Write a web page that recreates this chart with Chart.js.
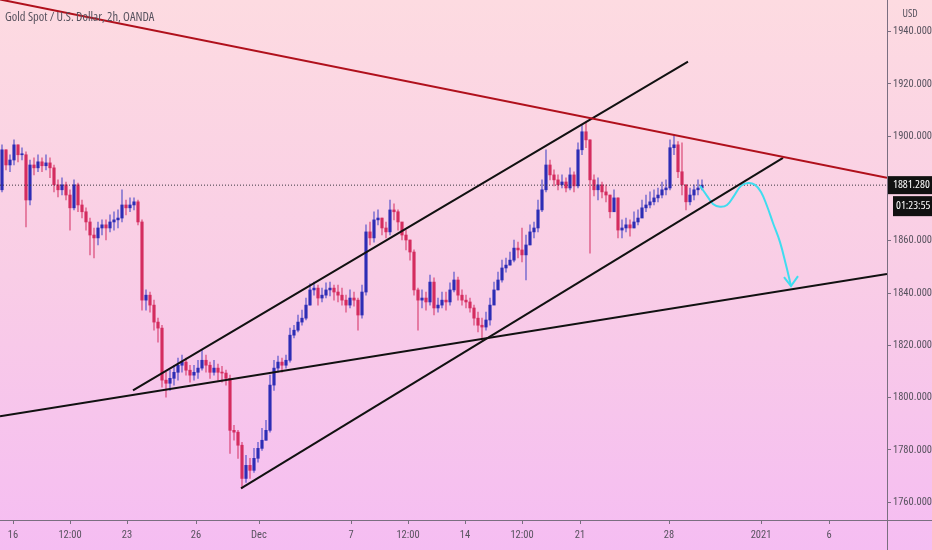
<!DOCTYPE html>
<html>
<head>
<meta charset="utf-8">
<title>Gold Spot / U.S. Dollar, 2h</title>
<script src="https://cdn.jsdelivr.net/npm/chart.js@4.4.1/dist/chart.umd.min.js"></script>
<style>
  html, body { margin: 0; padding: 0; }
  body {
    width: 932px;
    height: 550px;
    overflow: hidden;
    background: linear-gradient(to bottom, #fddbe1 0%, #f9cde6 50%, #f5bdf2 100%);
  }
</style>
</head>
<body>
<canvas id="chart" width="932" height="550"></canvas>
<script>
// 2h candles, one entry per candle (open = previous close)
const firstOpen = 1879.5;
const closes = [
  1894.8, 1889.0, 1890.9, 1896.7, 1892.9, 1892.9, 1875.6, 1889.0, 1887.9, 1890.2,
  1888.7, 1889.8, 1887.9, 1881.4, 1879.5, 1881.4, 1877.5, 1872.6, 1881.4, 1873.7,
  1871.1, 1867.2, 1862.2, 1861.1, 1864.9, 1866.1, 1864.9, 1867.2, 1868.0, 1868.7,
  1873.7, 1872.6, 1873.7, 1874.9, 1867.2, 1837.3, 1839.2, 1835.4, 1828.9, 1826.6,
  1806.7, 1805.5, 1807.4, 1809.7, 1812.4, 1813.6, 1810.5, 1808.6, 1809.7, 1811.3,
  1814.3, 1812.4, 1809.7, 1811.3, 1809.7, 1809.4, 1807.4, 1787.5, 1786.8, 1781.8,
  1769.1, 1774.1, 1772.2, 1776.8, 1780.6, 1783.7, 1787.5, 1804.8, 1811.3, 1813.6,
  1812.4, 1814.3, 1823.9, 1825.8, 1828.9, 1830.4, 1835.4, 1841.2, 1841.9, 1838.1,
  1839.2, 1841.2, 1841.9, 1840.4, 1839.2, 1837.3, 1835.4, 1838.1, 1837.3, 1831.6,
  1840.4, 1863.4, 1861.1, 1868.0, 1868.7, 1864.9, 1863.4, 1871.8, 1871.1, 1867.2,
  1862.2, 1860.3, 1855.7, 1841.2, 1837.3, 1838.1, 1836.6, 1844.2, 1834.3, 1835.4,
  1837.3, 1836.6, 1841.2, 1845.0, 1839.2, 1837.3, 1836.6, 1834.3, 1830.4, 1827.7,
  1827.0, 1829.7, 1835.4, 1841.2, 1845.0, 1849.6, 1850.7, 1852.6, 1857.2, 1856.5,
  1854.6, 1858.4, 1863.4, 1864.9, 1871.8, 1879.5, 1889.0, 1885.2, 1883.3, 1881.4,
  1882.5, 1880.2, 1885.2, 1881.0, 1894.8, 1901.7, 1898.6, 1883.3, 1879.5, 1881.4,
  1878.7, 1877.5, 1871.1, 1876.4, 1864.1, 1864.9, 1866.1, 1864.9, 1867.2, 1868.7,
  1872.6, 1873.7, 1874.9, 1876.4, 1877.5, 1879.5, 1880.2, 1895.6, 1896.7, 1886.4,
  1881.4, 1874.9, 1877.5, 1879.5, 1880.2, 1881.28
];
const highs = [
  1896.7, 1894.8, 1892.9, 1898.6, 1896.7, 1895.6, 1894.0, 1890.9, 1891.7, 1892.9,
  1891.7, 1892.9, 1891.7, 1889.0, 1883.3, 1884.1, 1882.5, 1879.5, 1883.3, 1882.1,
  1875.6, 1872.6, 1868.7, 1864.9, 1867.2, 1868.0, 1868.0, 1869.9, 1871.1, 1871.8,
  1879.5, 1875.6, 1876.4, 1876.4, 1875.6, 1868.0, 1841.2, 1840.4, 1837.3, 1830.4,
  1827.7, 1809.7, 1810.5, 1812.4, 1815.1, 1816.3, 1815.1, 1812.4, 1812.4, 1814.3,
  1818.2, 1816.3, 1813.6, 1814.3, 1812.8, 1812.0, 1810.5, 1808.6, 1789.4, 1787.5,
  1782.9, 1777.9, 1776.8, 1780.6, 1782.9, 1788.3, 1791.3, 1808.6, 1814.3, 1815.9,
  1815.1, 1816.3, 1826.6, 1827.7, 1831.6, 1833.5, 1838.1, 1843.5, 1844.2, 1843.1,
  1841.9, 1843.9, 1844.2, 1843.1, 1843.1, 1841.9, 1839.2, 1841.2, 1840.4, 1838.1,
  1843.1, 1866.1, 1867.2, 1871.1, 1871.8, 1868.7, 1867.2, 1875.6, 1874.1, 1871.8,
  1866.1, 1864.1, 1860.3, 1856.5, 1841.9, 1841.2, 1840.4, 1846.9, 1845.8, 1838.1,
  1840.4, 1840.4, 1843.9, 1848.0, 1846.1, 1841.2, 1839.2, 1838.1, 1835.4, 1832.7,
  1830.4, 1832.7, 1838.1, 1844.2, 1848.0, 1852.6, 1853.4, 1855.7, 1860.3, 1859.5,
  1864.9, 1862.2, 1866.1, 1867.2, 1875.6, 1883.3, 1894.8, 1890.9, 1887.1, 1885.2,
  1885.2, 1884.1, 1887.9, 1886.4, 1897.5, 1904.4, 1905.5, 1898.6, 1885.2, 1884.1,
  1882.5, 1881.4, 1877.5, 1879.5, 1876.4, 1868.0, 1868.7, 1868.0, 1871.1, 1871.8,
  1875.6, 1877.5, 1878.7, 1879.5, 1880.2, 1882.5, 1883.3, 1898.6, 1900.5, 1897.9,
  1897.5, 1881.4, 1880.2, 1881.4, 1883.3, 1883.3
];
const lows = [
  1878.7, 1887.1, 1886.4, 1889.0, 1890.2, 1890.9, 1865.3, 1873.7, 1885.2, 1886.4,
  1886.4, 1887.1, 1884.1, 1878.7, 1876.8, 1877.5, 1875.6, 1864.1, 1871.8, 1871.1,
  1868.7, 1864.1, 1854.6, 1853.4, 1858.4, 1862.2, 1860.3, 1863.4, 1864.1, 1864.9,
  1867.2, 1869.9, 1871.1, 1871.8, 1866.1, 1833.5, 1833.5, 1832.7, 1825.8, 1821.2,
  1804.0, 1800.2, 1802.8, 1804.8, 1806.7, 1809.7, 1808.6, 1805.9, 1806.7, 1807.4,
  1810.5, 1809.7, 1807.4, 1808.6, 1806.7, 1805.9, 1804.8, 1778.7, 1783.7, 1776.8,
  1765.3, 1767.6, 1769.1, 1771.4, 1775.3, 1779.8, 1783.7, 1786.8, 1802.8, 1809.7,
  1809.7, 1811.3, 1813.6, 1822.8, 1825.1, 1827.7, 1829.7, 1835.4, 1839.2, 1835.4,
  1836.6, 1838.1, 1838.9, 1837.3, 1836.6, 1835.4, 1832.7, 1834.3, 1835.0, 1825.8,
  1830.4, 1839.2, 1858.4, 1859.5, 1866.1, 1862.2, 1861.1, 1862.2, 1868.0, 1864.1,
  1860.3, 1856.5, 1852.6, 1839.2, 1825.8, 1834.3, 1833.5, 1835.4, 1831.6, 1832.7,
  1834.3, 1833.5, 1835.4, 1840.4, 1837.3, 1835.4, 1834.3, 1832.7, 1827.7, 1825.1,
  1822.0, 1825.8, 1827.7, 1837.3, 1841.2, 1844.2, 1848.0, 1850.7, 1851.9, 1853.4,
  1851.9, 1845.0, 1858.4, 1861.1, 1863.4, 1871.1, 1878.7, 1883.3, 1881.0, 1879.5,
  1880.2, 1878.7, 1879.5, 1878.7, 1880.2, 1892.9, 1895.6, 1855.3, 1877.2, 1875.6,
  1876.4, 1874.9, 1868.7, 1871.1, 1861.1, 1861.1, 1863.4, 1861.8, 1864.9, 1866.1,
  1869.9, 1871.1, 1872.6, 1873.7, 1874.9, 1876.4, 1877.5, 1879.5, 1892.9, 1884.1,
  1877.5, 1871.8, 1873.7, 1875.6, 1877.5, 1879.5
];

// time axis labels at candle-index positions
const xTickPos = [2.75, 17, 31.25, 48.5, 64.25, 87.25, 101.5, 115.75, 130, 144.5, 166.75, 189.75, 206.75];
const xTickLabels = ['16', '12:00', '23', '26', 'Dec', '7', '12:00', '14', '12:00', '21', '28', '2021', '6'];
const yTickValues = [1760, 1780, 1800, 1820, 1840, 1860, 1900, 1920, 1940];

// drawings: [candle index, price]
const resistanceLine = [[-0.5, 1952.3], [221.25, 1884.1]];
const channelTop = [[32.75, 1802.8], [171.5, 1928.5]];
const channelBottom = [[59.75, 1765.3], [195.25, 1891.7]];
const supportLine = [[-0.5, 1792.9], [221.25, 1847.3]];
const pathX = [174.5, 176.25, 177.75, 179.5, 181.25, 183, 184.75, 186.5, 188.25, 189.75, 191.25, 192.75, 194.5, 196, 197.25];
const pathY = [1881.0, 1877.2, 1874.1, 1873.0, 1873.7, 1877.2, 1881.0, 1882.1, 1881.4, 1878.7, 1873.3, 1866.8, 1859.5, 1850.7, 1842.7];
const arrowHead = [[195.5, 1846.1], [197.25, 1842.7], [199, 1846.5]];

const lastPrice = 1881.28;
const countdown = '01:23:55';

const TICK_FONT = "'Roboto Condensed', 'DejaVu Sans Condensed', sans-serif";
const TEXT_FONT = "'Open Sans', 'Roboto Condensed', sans-serif";
const TEXT = '#57525e';
const AXIS = '#7a6e80';
const UP = '#2d2db5';
const DOWN = '#d42c5f';
const UP_WICK = 'rgba(70, 70, 200, 0.65)';
const DOWN_WICK = 'rgba(212, 44, 95, 0.6)';

const opens = closes.map((c, i) => i === 0 ? firstOpen : closes[i - 1]);
const isUp = i => closes[i] >= opens[i];
const toPts = arr => arr.map(p => ({ x: p[0], y: p[1] }));

function lineSet(points, color, width, extra) {
  return Object.assign({
    type: 'line',
    data: points,
    borderColor: color,
    borderWidth: width,
    pointRadius: 0,
    fill: false,
    tension: 0,
    order: 0
  }, extra || {});
}

function condensedText(ctx, text, x, y, size) {
  ctx.font = size + 'px ' + TEXT_FONT;
  ctx.fontStretch = 'condensed';
  ctx.fillText(text, x, y);
  ctx.fontStretch = 'normal';
}

const overlay = {
  id: 'overlay',
  afterDraw(chart) {
    const { ctx, chartArea, scales } = chart;
    const w = chart.width, h = chart.height;
    ctx.save();
    // axis borders running full width / height
    ctx.strokeStyle = AXIS;
    ctx.lineWidth = 1;
    ctx.beginPath();
    ctx.moveTo(0, Math.round(chartArea.bottom) + 0.5);
    ctx.lineTo(w, Math.round(chartArea.bottom) + 0.5);
    ctx.moveTo(Math.round(chartArea.right) + 0.5, 0);
    ctx.lineTo(Math.round(chartArea.right) + 0.5, h);
    ctx.stroke();

    // title and currency
    ctx.fillStyle = TEXT;
    ctx.textBaseline = 'middle';
    condensedText(ctx, 'Gold Spot / U.S. Dollar, 2h, OANDA', 5, 17, 12.5);
    ctx.textAlign = 'center';
    condensedText(ctx, 'USD', 910, 14, 10.5);

    // last price + countdown labels
    const py = scales.y.getPixelForValue(lastPrice);
    const x0 = chartArea.right + 1;
    ctx.fillStyle = '#111111';
    ctx.fillRect(x0, py - 9, w - x0, 18);
    ctx.fillRect(x0 + 5, py + 11, w - x0 - 5, 20);
    ctx.fillStyle = '#ffffff';
    ctx.textAlign = 'left';
    condensedText(ctx, lastPrice.toFixed(3), x0 + 5, py, 11.5);
    condensedText(ctx, countdown, x0 + 8, py + 21, 11.5);
    ctx.restore();
  }
};

Chart.defaults.font.family = TICK_FONT;

new Chart(document.getElementById('chart'), {
  type: 'bar',
  data: {
    datasets: [
      lineSet(toPts(resistanceLine), '#b0101c', 2),
      lineSet(toPts(channelTop), '#111111', 2),
      lineSet(toPts(channelBottom), '#111111', 2),
      lineSet(toPts(supportLine), '#111111', 2),
      lineSet(pathX.map((x, i) => ({ x: x, y: pathY[i] })), '#3fdcef', 2, { tension: 0.4 }),
      lineSet(toPts(arrowHead), '#3fdcef', 2),
      lineSet([{ x: -0.5, y: lastPrice }, { x: 221.25, y: lastPrice }], '#3a3540', 1,
        { borderDash: [1, 2], order: 1 }),
      {
        label: 'body',
        data: closes.map((c, i) => ({ x: i, y: [opens[i], c] })),
        backgroundColor: ctx => isUp(ctx.dataIndex) ? UP : DOWN,
        barThickness: 2.5,
        minBarLength: 1,
        grouped: false,
        order: 2
      },
      {
        label: 'wick',
        data: closes.map((c, i) => ({ x: i, y: [lows[i], highs[i]] })),
        backgroundColor: ctx => isUp(ctx.dataIndex) ? UP_WICK : DOWN_WICK,
        barThickness: 1,
        grouped: false,
        order: 3
      }
    ]
  },
  options: {
    responsive: false,
    animation: false,
    devicePixelRatio: 1,
    events: [],
    layout: { padding: 0 },
    plugins: {
      legend: { display: false },
      tooltip: { enabled: false }
    },
    scales: {
      x: {
        type: 'linear',
        min: -0.5,
        max: 221.25,
        offset: false,
        afterBuildTicks: scale => { scale.ticks = xTickPos.map(v => ({ value: v })); },
        afterFit: scale => {
          scale.height = 30;
          scale.paddingLeft = 0;
          scale.paddingRight = 0;
        },
        grid: { drawOnChartArea: false, drawTicks: true, tickLength: 4, color: AXIS, offset: false },
        border: { display: false },
        ticks: {
          autoSkip: false,
          maxRotation: 0,
          padding: 5,
          color: TEXT,
          font: { size: 10.5 },
          callback: value => xTickLabels[xTickPos.indexOf(value)]
        }
      },
      y: {
        position: 'right',
        min: 1753.2,
        max: 1952.1,
        afterBuildTicks: scale => { scale.ticks = yTickValues.map(v => ({ value: v })); },
        afterFit: scale => {
          scale.width = 45;
          scale.paddingTop = 0;
          scale.paddingBottom = 0;
        },
        grid: { drawOnChartArea: false, drawTicks: true, tickLength: 4, color: AXIS },
        border: { display: false },
        ticks: {
          padding: 2,
          color: TEXT,
          font: { size: 10.5 },
          callback: value => value.toFixed(3)
        }
      }
    }
  },
  plugins: [overlay]
});
</script>
</body>
</html>
